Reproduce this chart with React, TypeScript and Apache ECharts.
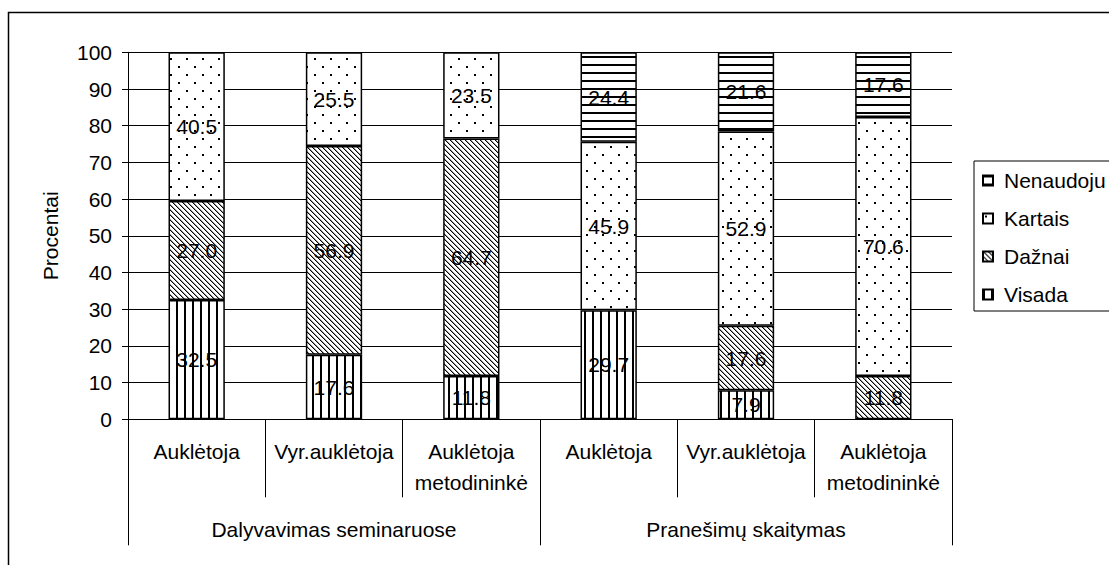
import React, { useEffect, useRef } from "react";
import * as echarts from "echarts";

const categories = [
  "Auklėtoja",
  "Vyr.auklėtoja",
  "Auklėtoja\nmetodininkė",
  "Auklėtoja",
  "Vyr.auklėtoja",
  "Auklėtoja\nmetodininkė",
];
const groups = ["Dalyvavimas seminaruose", "Pranešimų skaitymas"];
const yTicks = [0, 10, 20, 30, 40, 50, 60, 70, 80, 90, 100];

const visada: (number | string)[] = [32.5, 17.6, 11.8, 29.7, 7.9, "-"];
const daznai: (number | string)[] = [27.0, 56.9, 64.7, "-", 17.6, 11.8];
const kartais: (number | string)[] = [40.5, 25.5, 23.5, 45.9, 52.9, 70.6];
const nenaudoju: (number | string)[] = ["-", "-", "-", 24.4, 21.6, 17.6];

const FONT = "'Liberation Sans', Arial, sans-serif";

function makePattern(w: number, h: number, draw: (ctx: CanvasRenderingContext2D) => void) {
  const c = document.createElement("canvas");
  c.width = w;
  c.height = h;
  const ctx = c.getContext("2d")!;
  ctx.fillStyle = "#fff";
  ctx.fillRect(0, 0, w, h);
  ctx.fillStyle = "#000";
  draw(ctx);
  return { image: c, repeat: "repeat", imageWidth: w, imageHeight: h } as any;
}

export default function App() {
  const ref = useRef<HTMLDivElement>(null);
  useEffect(() => {
    if (!ref.current) return;
    const chart = echarts.init(ref.current, undefined, { renderer: "svg" });

    const pVisada = makePattern(8, 8, (ctx) => ctx.fillRect(0, 0, 2, 8));
    const pDaznai = makePattern(5, 5, (ctx) => {
      for (let i = 0; i < 5; i++) {
        ctx.fillStyle = "#000";
        ctx.fillRect(i, i, 1, 1);
        ctx.fillStyle = "#999";
        ctx.fillRect((i + 1) % 5, i, 1, 1);
      }
    });
    const pKartais = makePattern(16, 16, (ctx) => {
      ctx.fillRect(2, 2, 2, 2);
      ctx.fillRect(10, 10, 2, 2);
    });
    const pNenaudoju = makePattern(8, 8, (ctx) => ctx.fillRect(0, 0, 8, 2));

    const label = {
      show: true,
      position: "inside",
      color: "#000",
      fontSize: 21,
      fontFamily: FONT,
      formatter: (p: any) => Number(p.value).toFixed(1),
    };
    const mk = (name: string, data: (number | string)[], pat: any) => ({
      name,
      type: "bar",
      stack: "total",
      barWidth: "41%",
      data,
      label,
      itemStyle: { color: pat, borderColor: "#000", borderWidth: 1.5 },
      emphasis: { disabled: true },
    });

    chart.setOption({
      animation: false,
      backgroundColor: "#fff",
      textStyle: { fontFamily: FONT, color: "#000" },
      grid: { left: 128, right: 157, top: 52.3, bottom: 145.7, containLabel: false },
      legend: {
        orient: "vertical",
        left: 974,
        top: 161,
        data: ["Nenaudoju", "Kartais", "Dažnai", "Visada"],
        itemWidth: 10,
        itemHeight: 10,
        itemGap: 17,
        icon: "rect",
        borderColor: "#000",
        borderWidth: 1,
        backgroundColor: "#fff",
        padding: [9, 4, 6, 8],
        textStyle: { fontSize: 21, color: "#000", fontFamily: FONT, padding: [0, 0, 0, 6] },
        selectedMode: false,
      },
      xAxis: [
        {
          type: "category",
          data: categories,
          position: "bottom",
          axisLine: { show: true, lineStyle: { color: "#000", width: 1 } },
          axisTick: { show: true, interval: 0, length: 78, lineStyle: { color: "#000", width: 1 } },
          axisLabel: { interval: 0, fontSize: 21, color: "#000", margin: 17, lineHeight: 31, fontFamily: FONT },
          splitLine: { show: false },
        },
        {
          type: "category",
          data: groups,
          position: "bottom",
          axisLine: { show: false },
          axisTick: { show: true, interval: 0, length: 126, lineStyle: { color: "#000", width: 1 } },
          axisLabel: { interval: 0, fontSize: 21, color: "#000", margin: 100, fontFamily: FONT },
          splitLine: { show: false },
        },
      ],
      yAxis: {
        type: "value",
        min: yTicks[0],
        max: yTicks[yTicks.length - 1],
        interval: 10,
        name: "Procentai",
        nameLocation: "middle",
        nameRotate: 90,
        nameGap: 67,
        nameTextStyle: { fontSize: 21, color: "#000", fontFamily: FONT },
        axisLine: { show: true, lineStyle: { color: "#000", width: 1 } },
        axisTick: { show: true, length: 6, lineStyle: { color: "#000", width: 1 } },
        axisLabel: { fontSize: 21, color: "#000", margin: 16, fontFamily: FONT },
        splitLine: { show: true, lineStyle: { color: "#000", width: 1 } },
      },
      graphic: [
        {
          type: "rect",
          shape: { x: 8.5, y: 12.5, width: 1200, height: 1000 },
          style: { fill: "none", stroke: "#000", lineWidth: 1.5 },
          silent: true,
          z: 100,
        },
      ],
      series: [
        mk("Visada", visada, pVisada),
        mk("Dažnai", daznai, pDaznai),
        mk("Kartais", kartais, pKartais),
        mk("Nenaudoju", nenaudoju, pNenaudoju),
      ],
    });
    return () => chart.dispose();
  }, []);
  return (
    <div
      ref={ref}
      style={{ position: "fixed", left: 0, top: 0, width: 1109, height: 565, background: "#fff" }}
    />
  );
}
